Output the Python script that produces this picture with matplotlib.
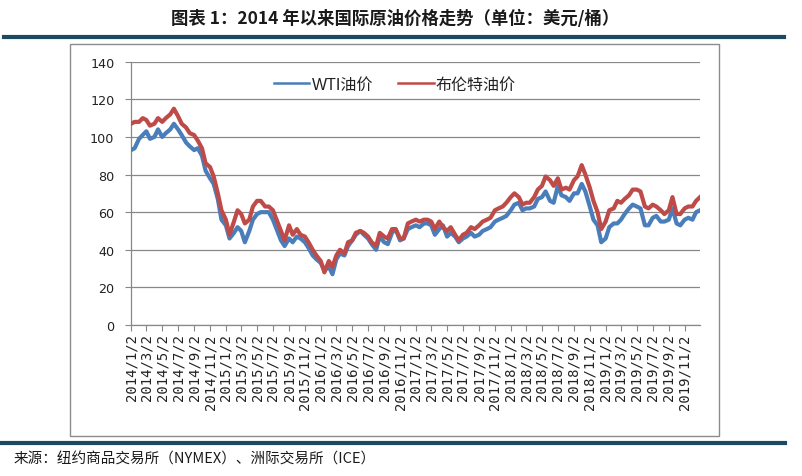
import matplotlib
matplotlib.use("Agg")
import matplotlib.pyplot as plt
import matplotlib.dates as mdates
from matplotlib.lines import Line2D
from matplotlib.patches import Rectangle
import pandas as pd
import datetime as dt

plt.rcParams['font.family'] = ['DejaVu Sans', 'Noto Sans CJK SC']

# semi-monthly samples, 2014/1 .. 2019/12 (1st and 16th), plus final point
brent = [
    107, 108, 108, 110, 109, 106, 107, 110, 108, 110, 112, 115,
    111, 107, 105, 102, 101, 98, 94, 86, 84, 79, 70, 61,
    56, 48, 55, 61, 59, 54, 56, 63, 66, 66, 63, 63,
    61, 56, 50, 45, 53, 48, 51, 48, 47, 44, 40, 37,
    34, 28, 34, 31, 37, 40, 38, 44, 45, 49, 50, 49,
    47, 44, 42, 49, 47, 46, 51, 51, 46, 46, 54, 55,
    56, 55, 56, 56, 55, 51, 55, 52, 50, 52, 48, 45,
    48, 49, 52, 51, 53, 55, 56, 57, 61, 62, 63, 65,
    68, 70, 68, 64, 65, 65, 68, 72, 74, 79, 77, 74,
    78, 72, 73, 72, 77, 79, 85, 80, 73, 66, 60, 51,
    55, 61, 62, 66, 65, 67, 69, 72, 72, 71, 63, 62,
    64, 63, 61, 59, 61, 68, 59, 59, 62, 63, 63, 66,
    68,
]
wti = [
    93, 94, 99, 101, 103, 99, 100, 104, 100, 102, 104, 107,
    104, 101, 97, 95, 93, 94, 90, 82, 78, 75, 67, 56,
    53, 46, 49, 52, 50, 44, 50, 56, 59, 60, 60, 60,
    56, 51, 45, 42, 46, 44, 47, 46, 44, 41, 37, 35,
    33, 29, 31, 27, 35, 38, 37, 42, 45, 48, 50, 48,
    46, 43, 40, 47, 44, 43, 49, 51, 45, 46, 51, 52,
    53, 52, 54, 54, 53, 48, 51, 53, 47, 49, 47, 44,
    46, 47, 49, 47, 48, 50, 51, 52, 55, 56, 57, 58,
    61, 64, 65, 61, 62, 62, 63, 67, 68, 71, 66, 65,
    74, 69, 68, 66, 70, 70, 75, 71, 63, 56, 53, 44,
    46, 52, 54, 54, 56, 59, 62, 64, 63, 62, 53, 53,
    57, 58, 55, 55, 56, 62, 54, 53, 56, 57, 56, 60,
    61,
]
series_names = ["WTI油价", "布伦特油价"]
tick_labels = [f"{y}/{m}/2" for y in range(2014, 2020) for m in (1, 3, 5, 7, 9, 11)]

dates = []
for y in range(2014, 2020):
    for m in range(1, 13):
        dates.append(dt.date(y, m, 2))
        dates.append(dt.date(y, m, 16))
dates.append(dt.date(2019, 12, 31))

W, H = 802, 477
fig = plt.figure(figsize=(W / 100, H / 100), dpi=100)
fig.patch.set_facecolor('white')

# outer chart box
fig.add_artist(Rectangle((70 / W, 1 - 437 / H), 649 / W, 392 / H, transform=fig.transFigure,
                         fill=False, ec='#8c8c8c', lw=1.0))

ax = fig.add_axes([131 / W, 1 - 326 / H, 569 / W, (326 - 62.7) / H])
ax.plot(dates, wti, color='#4A7EBB', lw=3.0, solid_joinstyle='round', zorder=3)
ax.plot(dates, brent, color='#BE4B48', lw=3.0, solid_joinstyle='round', zorder=4)

ax.set_xlim(dt.date(2014, 1, 2), dt.date(2019, 12, 31))
ax.set_ylim(0, 140)
ax.set_yticks(range(0, 141, 20))
tick_dates = [dt.date(2014 + i // 6, 1 + 2 * (i % 6), 2) for i in range(len(tick_labels))]
ax.set_xticks(tick_dates)
ax.set_xticklabels(tick_labels, rotation=90, family='DejaVu Sans Mono', fontsize=10)
ax.tick_params(axis='x', length=4, width=0.8, color='#888888', pad=2, colors='#222222')
ax.tick_params(axis='y', length=4, width=0.8, color='#888888', pad=8, labelsize=9.2, colors='#222222')
for t in ax.get_xticklabels() + ax.get_yticklabels():
    t.set_color('#222222')
ax.tick_params(axis='both', color='#888888')

for s in ('top', 'right'):
    ax.spines[s].set_visible(False)
for s in ('left', 'bottom'):
    ax.spines[s].set_color('#888888')
    ax.spines[s].set_linewidth(0.9)
ax.grid(axis='y', color='#888888', lw=0.9)
ax.set_axisbelow(True)
ax.set_facecolor('none')

handles = [Line2D([], [], color='#4A7EBB', lw=1.8), Line2D([], [], color='#BE4B48', lw=1.8)]
leg = fig.legend(handles, series_names, loc='center', bbox_to_anchor=(395 / W, 1 - 85 / H),
                 ncol=2, frameon=False, handlelength=2.2, handletextpad=0.15, columnspacing=1.6,
                 prop={'family': ['Liberation Sans', 'Noto Sans CJK SC'], 'size': 11.5})
for t in leg.get_texts():
    t.set_color('#222222')

# header line and title
fig.add_artist(Line2D([4 / W, 784 / W], [1 - 37.5 / H] * 2, transform=fig.transFigure,
                      color='#1d4a63', lw=3.0))
fig.text(395 / W, 1 - 19 / H, "图表 1：2014 年以来国际原油价格走势（单位：美元/桶）",
         ha='center', va='center', fontsize=12.5, family=['Noto Sans CJK SC', 'DejaVu Sans'],
         weight='bold', color='#1a1a1a')

# footer line and source
fig.add_artist(Line2D([0, 785 / W], [1 - 444 / H] * 2, transform=fig.transFigure,
                      color='#1d4a63', lw=3.0))
fig.text(14 / W, 1 - 460 / H, "来源：纽约商品交易所（NYMEX）、洲际交易所（ICE）",
         ha='left', va='center', fontsize=10.5, family=['Noto Sans CJK SC', 'DejaVu Sans'],
         color='#1a1a1a')

fig.savefig('out.png', dpi=100)
